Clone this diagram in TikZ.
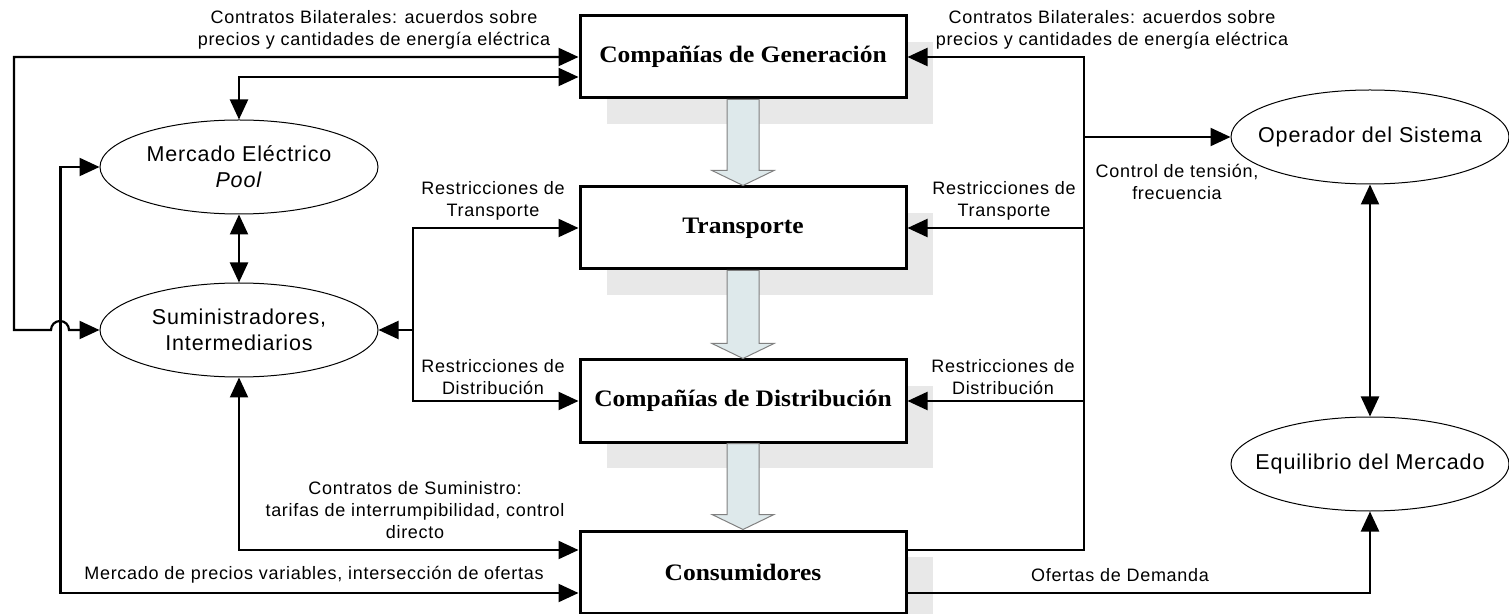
\documentclass[tikz,border=0pt]{standalone}
\usepackage{fontspec}
\newfontfamily\lblfont{Liberation Sans}[LetterSpace=4.0]
\newfontfamily\cajafont{Liberation Serif}[FakeStretch=1.08]
\usetikzlibrary{arrows.meta, shapes.geometric, shadows, calc}
\definecolor{flecha}{RGB}{222,233,235}
\definecolor{sombra}{RGB}{232,232,232}

\begin{document}
\begin{tikzpicture}[x=0.5pt, y=-0.5pt, >={Triangle[length=10pt,width=9pt]},
    conn/.style={draw, line width=1.1pt},
    caja/.style={draw, line width=1.5pt, fill=white, minimum width=163pt, minimum height=41pt, inner sep=0pt,
      font=\cajafont\bfseries\fontsize{11.8}{13}\selectfont,
      drop shadow={shadow xshift=13.5pt, shadow yshift=-13pt, fill=sombra, opacity=1}},
    elip/.style={draw, ellipse, line width=0.5pt, minimum width=139pt, minimum height=47pt, inner sep=0pt},
    etxt/.style={font=\lblfont\fontsize{10.75}{13}\selectfont, align=center},
    lbl/.style={font=\lblfont\fontsize{9}{11}\selectfont, align=center, inner sep=0pt},
    fat/.style={draw=black!50, line width=0.5pt, fill=flecha}]
  \useasboundingbox (0,0) rectangle (1509,614);
  % cajas centrales
  \node[caja] (gen) at (743,57) {Compañías de Generación};
  \node[caja] (tra) at (743,228) {Transporte};
  \node[caja] (dis) at (743,401) {Compañías de Distribución};
  \node[caja] (con) at (743,572) {Consumidores};
  % elipses
  \node[elip, label={[etxt]center:{Mercado Eléctrico\\\textit{Pool}}}] (mer) at (239,167) {};
  \node[elip, label={[etxt]center:{Suministradores,\\Intermediarios}}] (sum) at (239,330) {};
  \node[elip, label={[etxt]center:Operador del Sistema}] (opr) at (1370,137) {};
  \node[elip, label={[etxt]center:Equilibrio del Mercado}] (equ) at (1370,464) {};
  % flechas gruesas
  \foreach \a/\b in {gen/tra, tra/dis, dis/con}
    \draw[fat] ($(\a.south)+(-16,0)$) -- ($(\b.north)+(-16,-15)$) -- ($(\b.north)+(-31,-15)$) -- (\b.north)
      -- ($(\b.north)+(31,-15)$) -- ($(\b.north)+(16,-15)$) -- ($(\a.south)+(16,0)$) -- cycle;
  % lado izquierdo
  \draw[conn,<->] (sum.west) -- (69,330) arc[start angle=0, end angle=180, radius=4.5pt] -- (14,330) |- (gen.west);
  \draw[conn,<->] (mer.north) |- ($(gen.west)+(0,20)$);
  \draw[conn,<->] (mer.south) -- (sum.north);
  \draw[conn,<->] (mer.west) -- ++(-39,0) |- ($(con.west)+(0,21)$);
  \coordinate (lb) at (413,330);
  \draw[conn,<->] (tra.west) -| (lb) |- (dis.west);
  \draw[conn,->] (lb) -- (sum.east);
  \draw[conn,<->] (sum.south) |- ($(con.west)+(0,-22)$);
  % lado derecho
  \coordinate (rb) at (1084,0);
  \draw[conn,->] ($(con.east)+(0,-22)$) -| (rb |- gen.east) -- (gen.east);
  \draw[conn,->] (rb |- tra.east) -- (tra.east);
  \draw[conn,->] (rb |- dis.east) -- (dis.east);
  \draw[conn,->] (rb |- opr.west) -- (opr.west);
  \draw[conn,->] ($(con.east)+(0,21)$) -| (equ.south);
  \draw[conn,<->] (opr.south) -- (equ.north);
  % etiquetas
  \node[lbl] (bil1) at (374,30) {Contratos Bilaterales: acuerdos sobre\\precios y cantidades de energía eléctrica};
  \node[lbl] (bil2) at (1112,30) {Contratos Bilaterales: acuerdos sobre\\precios y cantidades de energía eléctrica};
  \node[lbl] (rt1) at (493,201) {Restricciones de\\Transporte};
  \node[lbl] (rt2) at (1004,201) {Restricciones de\\Transporte};
  \node[lbl] (rd1) at (493,377) {Restricciones de\\Distribución};
  \node[lbl] (rd2) at (1003,377) {Restricciones de\\Distribución};
  \node[lbl] (ctl) at (1177,182) {Control de tensión,\\frecuencia};
  \node[lbl] (csum) at (415,510) {Contratos de Suministro:\\tarifas de interrumpibilidad, control\\directo};
  \node[lbl] (mpv) at (314,575) {Mercado de precios variables, intersección de ofertas};
  \node[lbl] (ofd) at (1120,575) {Ofertas de Demanda};
\end{tikzpicture}
\end{document}
